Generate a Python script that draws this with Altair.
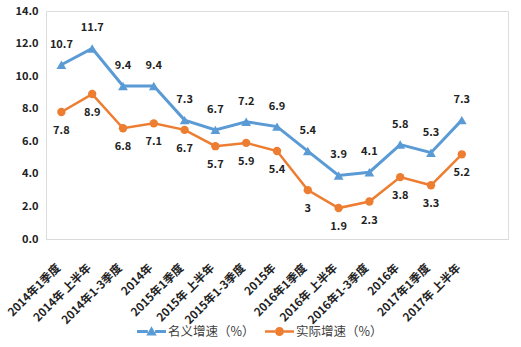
import altair as alt
import pandas as pd

categories = ["2014年1季度", "2014年 上半年", "2014年1-3季度", "2014年",
              "2015年1季度", "2015年 上半年", "2015年1-3季度", "2015年",
              "2016年1季度", "2016年 上半年", "2016年1-3季度", "2016年",
              "2017年1季度", "2017年 上半年"]
nominal = [10.7, 11.7, 9.4, 9.4, 7.3, 6.7, 7.2, 6.9, 5.4, 3.9, 4.1, 5.8, 5.3, 7.3]
real = [7.8, 8.9, 6.8, 7.1, 6.7, 5.7, 5.9, 5.4, 3, 1.9, 2.3, 3.8, 3.3, 5.2]
series_names = ["名义增速（%）", "实际增速（%）"]
colors = ["#5B9BD5", "#ED7D31"]
y_ticks = [0, 2, 4, 6, 8, 10, 12, 14]

rows = []
for c, v in zip(categories, nominal):
    rows.append({"cat": c, "value": v, "series": series_names[0]})
for c, v in zip(categories, real):
    rows.append({"cat": c, "value": v, "series": series_names[1]})
df = pd.DataFrame(rows)

x_domain = categories + [" "]
FONT = "Noto Sans CJK SC"

x_enc = alt.X("cat:N", sort=None,
              scale=alt.Scale(type="point", domain=x_domain, padding=0.5),
              axis=alt.Axis(title=None, labelAngle=-45, labelAlign="right", labelBaseline="middle",
                            labelFontWeight="bold", labelFontSize=11.5, labelColor="#222",
                            labelFont=FONT, ticks=False, domainColor="#D9D9D9",
                            labelPadding=27, labelOffset=-3, grid=False, labelOverlap=False))
y_enc = alt.Y("value:Q", scale=alt.Scale(domain=[0, 14], nice=False),
              axis=alt.Axis(title=None, values=y_ticks, format=".1f", domain=False, ticks=False,
                            grid=False, labelFontWeight="bold", labelFontSize=11,
                            labelColor="#222", labelFont=FONT, labelPadding=8))

blue_path = "M-1,-0.1H-0.25V0.1H-1Z M0.25,-0.1H1V0.1H0.25Z M0,-0.36L0.36,0.27L-0.36,0.27Z"
orange_path = ("M-1,-0.085H-0.3V0.085H-1Z M0.3,-0.085H1V0.085H0.3Z "
               "M-0.31,0A0.31,0.31 0 1,0 0.31,0A0.31,0.31 0 1,0 -0.31,0Z")

base = alt.Chart(df)

legend_opts = dict(title=None, orient="none", direction="horizontal",
                   legendX=91, legendY=306, symbolSize=841, symbolStrokeWidth=0,
                   symbolOpacity=1, labelFont=FONT, labelFontSize=12.5, labelColor="#404040",
                   labelOffset=2, columnPadding=10)

layers = []
shapes = ["triangle-up", "circle"]
widths = [3, 2.5]
sizes = [95, 70]
labels_dy = [-20, 19]
for name, col, shp, w, s, dy in zip(series_names, colors, shapes, widths, sizes, labels_dy):
    sub = base.transform_filter(alt.datum.series == name)
    layers.append(sub.mark_line(color=col, strokeWidth=w).encode(x=x_enc, y=y_enc))
for name, col, shp, w, s, dy in zip(series_names, colors, shapes, widths, sizes, labels_dy):
    sub = base.transform_filter(alt.datum.series == name)
    layers.append(sub.mark_point(filled=True, opacity=1, shape=shp, size=s, color=col).encode(x=x_enc, y=y_enc))
    layers.append(sub.mark_text(dy=dy, fontWeight="bold", fontSize=11, font=FONT, color="#222").encode(
        x=x_enc, y=y_enc, text="value:Q"))

legend_layer = base.mark_point(filled=True, opacity=0).encode(
    x=x_enc, y=y_enc,
    fill=alt.Fill("series:N", scale=alt.Scale(domain=series_names, range=colors),
                  legend=alt.Legend(**legend_opts)),
    shape=alt.Shape("series:N", scale=alt.Scale(domain=series_names, range=[blue_path, orange_path]),
                    legend=alt.Legend(**legend_opts)),
)
layers.append(legend_layer)

chart = alt.layer(*layers).properties(
    width=462, height=228,
    autosize=alt.AutoSizeParams(type="none"),
    padding={"left": 46, "top": 11, "right": 13, "bottom": 108},
).configure_view(stroke=None).configure(background="white")

chart.save("out.html", embed_options={"renderer": "svg", "actions": False})
